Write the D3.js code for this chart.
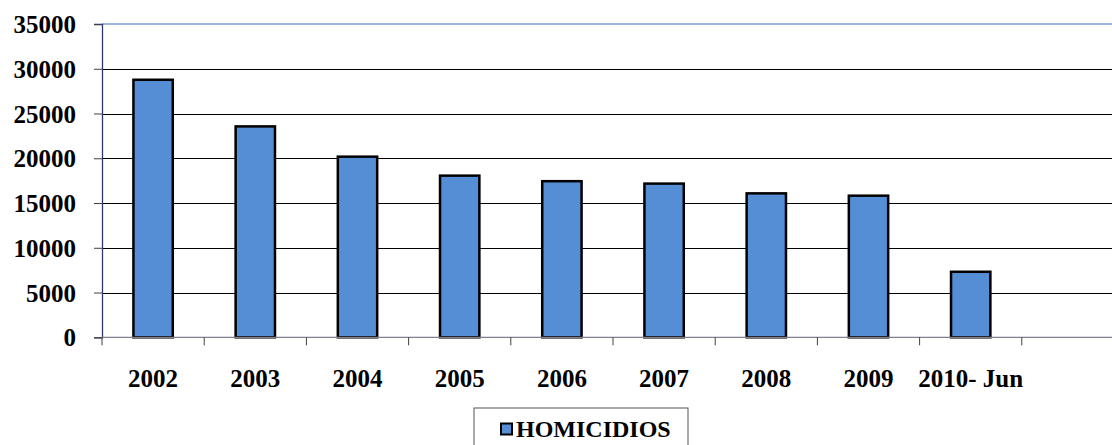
<!DOCTYPE html>
<html>
<head>
<meta charset="utf-8">
<script src="https://cdn.jsdelivr.net/npm/d3@7"></script>
<style>
  html, body { margin: 0; padding: 0; background: #fff; }
  svg { display: block; }
  text { font-family: "Liberation Serif", "Times New Roman", serif; font-weight: bold; fill: #000; }
</style>
</head>
<body>
<svg id="chart" width="1112" height="445"></svg>
<script>
const categories = ["2002", "2003", "2004", "2005", "2006", "2007", "2008", "2009", "2010- Jun", ""];
const homicidios = [28770, 23560, 20180, 18060, 17440, 17170, 16080, 15820, 7320];
const yTicks = [0, 5000, 10000, 15000, 20000, 25000, 30000, 35000];
const seriesName = "HOMICIDIOS";

(function () {
const svg = d3.select("#chart");
const pLeft = 102, pRight = 1124, pTop = 24, pBottom = 337.3;

const x = d3.scaleBand().domain(categories).range([pLeft, pRight]).padding(0);
const y = d3.scaleLinear().domain([0, 35000]).range([pBottom, pTop]);

// gridlines
svg.append("g").selectAll("line").data(yTicks.filter(t => t > 0 && t < 35000)).join("line")
  .attr("x1", pLeft).attr("x2", 1112)
  .attr("y1", d => Math.round(y(d)) + 0.5).attr("y2", d => Math.round(y(d)) + 0.5)
  .attr("stroke", "#000").attr("stroke-width", 1);

// top line (light blue)
svg.append("line").attr("x1", pLeft).attr("x2", 1112)
  .attr("y1", y(35000)).attr("y2", y(35000))
  .attr("stroke", "#9db5e3").attr("stroke-width", 2.2);

// bars
const bw = x.bandwidth();
const barW = bw * 0.385;
svg.append("g").selectAll("rect").data(homicidios).join("rect")
  .attr("x", (d, i) => x(categories[i]) + (bw - barW) / 2)
  .attr("y", d => y(d))
  .attr("width", barW)
  .attr("height", d => y(0) - y(d))
  .attr("fill", "#558ed5")
  .attr("stroke", "#000").attr("stroke-width", 2.5);

// y axis
const yAxis = d3.axisLeft(y).tickValues(yTicks).tickSize(8).tickPadding(18).tickFormat(d3.format("d"));
const gy = svg.append("g").attr("transform", `translate(${pLeft},0)`).call(yAxis);
gy.attr("font-family", null);
gy.select(".domain").attr("stroke", "#2f3a66").attr("stroke-width", 1.3);
gy.selectAll(".tick line").attr("stroke", "#404040");
gy.selectAll(".tick text").attr("font-size", "25px").attr("font-weight", "bold").attr("fill", "#000").attr("dy", "0.34em");

// x axis line
svg.append("line").attr("x1", pLeft).attr("x2", 1112)
  .attr("y1", pBottom).attr("y2", pBottom)
  .attr("stroke", "#7f7f8f").attr("stroke-width", 1.3);

// x ticks at band boundaries
const bounds = categories.map(c => x(c)).concat([pRight]).filter(v => v <= 1112);
svg.append("g").selectAll("line").data(bounds).join("line")
  .attr("x1", d => d).attr("x2", d => d)
  .attr("y1", pBottom).attr("y2", pBottom + 8)
  .attr("stroke", "#404040").attr("stroke-width", 1);

// x labels
svg.append("g").selectAll("text").data(categories.filter(c => c !== "")).join("text")
  .attr("x", d => x(d) + bw / 2)
  .attr("y", 387)
  .attr("text-anchor", "middle")
  .attr("font-size", "25px")
  .text(d => d);

// legend
const lg = svg.append("g");
lg.append("rect").attr("x", 474).attr("y", 408).attr("width", 214).attr("height", 50)
  .attr("fill", "#fff").attr("stroke", "#555").attr("stroke-width", 1);
lg.append("rect").attr("x", 501).attr("y", 423.5).attr("width", 11).attr("height", 11)
  .attr("fill", "#558ed5").attr("stroke", "#000").attr("stroke-width", 2);
lg.append("text").attr("x", 516).attr("y", 437).attr("font-size", "24px").text(seriesName);
})();
</script>
</body>
</html>
